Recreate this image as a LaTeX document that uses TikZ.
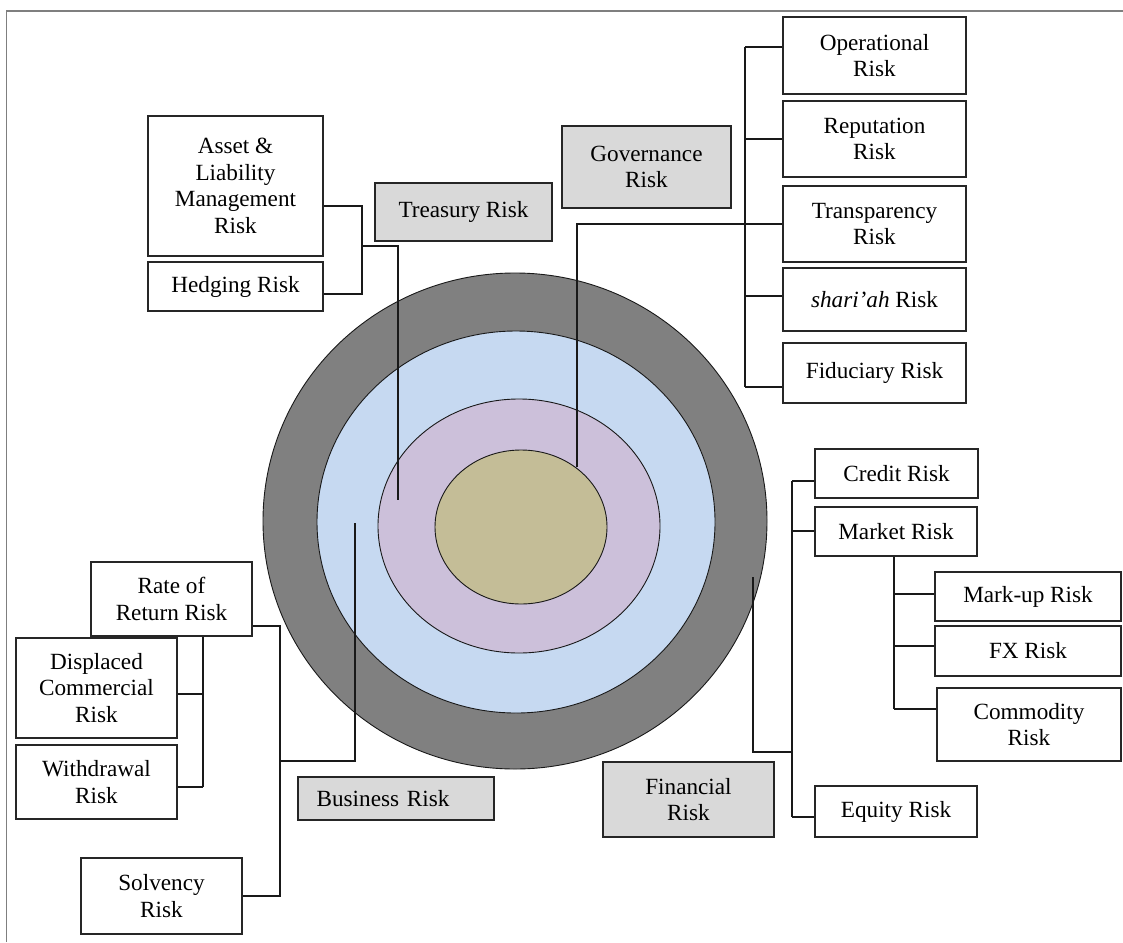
\documentclass[tikz,border=0pt]{standalone}
\usepackage{fontspec}
\setmainfont{Liberation Serif}
\newfontfamily\boxfont{Liberation Serif}
\definecolor{ringgray}{HTML}{808080}
\definecolor{ringblue}{HTML}{C6D9F1}
\definecolor{ringpurple}{HTML}{CCC0DA}
\definecolor{ringtan}{HTML}{C4BD97}
\definecolor{labelgray}{HTML}{D9D9D9}
\definecolor{framegray}{HTML}{7F7F7F}
\tikzset{
  box/.style={draw=black!85, line width=1.3pt, fill=white, inner sep=0pt, align=center,
    font=\boxfont\fontsize{23.2}{26.5}\selectfont},
  graybox/.style={box, fill=labelgray},
  conn/.style={draw=black!90, line width=1.2pt},
  ring/.style={draw=black!90, line width=0.9pt}
}
\begin{document}
\begin{tikzpicture}[x=1pt,y=-1pt]
\useasboundingbox (0,0) rectangle (1123,942);
% frame
\draw[framegray, line width=1.5pt] (6.5,942) -- (6.5,11) -- (1123,11);
% rings
\draw[ring, fill=ringgray] (515,521) ellipse [x radius=252, y radius=248];
\draw[ring, fill=ringblue] (516,522) ellipse [x radius=199, y radius=191];
\draw[ring, fill=ringpurple] (519,526) ellipse [x radius=141, y radius=127];
\draw[ring, fill=ringtan] (521,527) ellipse [x radius=86, y radius=77];

% treasury group
\node[box, minimum width=175pt, minimum height=140pt] (alm) at (235.5,186) {Asset \&\\Liability\\Management\\Risk};
\node[box, minimum width=175pt, minimum height=49pt] (hedge) at (235.5,286.5) {Hedging Risk};
\node[graybox, minimum width=177pt, minimum height=58pt] (treasury) at (463.5,212) {Treasury Risk};

% governance group
\node[graybox, minimum width=169pt, minimum height=82pt] (gov) at (646.5,167) {Governance\\Risk};
\node[box, minimum width=183pt, minimum height=77pt] (oper) at (874.5,55.5) {Operational\\Risk};
\node[box, minimum width=183pt, minimum height=76pt] (repu) at (874.5,139) {Reputation\\Risk};
\node[box, minimum width=183pt, minimum height=76pt] (trans) at (874.5,224) {Transparency\\Risk};
\node[box, minimum width=183pt, minimum height=63pt] (shariah) at (874.5,299.5) {\textit{shari’ah} Risk};
\node[box, minimum width=183pt, minimum height=60pt] (fid) at (874.5,373) {Fiduciary Risk};

% financial group
\node[box, minimum width=163pt, minimum height=49pt] (credit) at (896.5,473.5) {Credit Risk};
\node[box, minimum width=162pt, minimum height=49pt] (market) at (896,531.5) {Market Risk};
\node[box, minimum width=186pt, minimum height=49pt] (markup) at (1028,596.5) {Mark-up Risk};
\node[box, minimum width=186pt, minimum height=50pt] (fx) at (1028,651) {FX Risk};
\node[box, minimum width=184pt, minimum height=73pt] (commodity) at (1029,724.5) {Commodity\\Risk};
\node[box, minimum width=162pt, minimum height=51pt] (equity) at (896,811.5) {Equity Risk};
\node[graybox, minimum width=171pt, minimum height=75pt] (financial) at (688.5,799.5) {Financial\\Risk};

% business group
\node[graybox, minimum width=196pt, minimum height=43pt, text width=196pt] (business) at (396,798.5) {\hspace*{-26pt}Business Risk};
\node[box, minimum width=161pt, minimum height=74pt] (ror) at (171.5,599) {Rate of\\Return Risk};
\node[box, minimum width=161pt, minimum height=100pt] (displaced) at (96.5,688) {Displaced\\Commercial\\Risk};
\node[box, minimum width=161pt, minimum height=74pt] (withdrawal) at (96.5,782) {Withdrawal\\Risk};
\node[box, minimum width=161pt, minimum height=76pt] (solvency) at (161.5,896) {Solvency\\Risk};

% treasury connectors
\coordinate (t1) at (362,206);
\coordinate (t2) at (362,294);
\coordinate (tj) at (362,246);
\coordinate (tend) at (398,500);
\draw[conn] (t1 -| alm.east) -- (t1) -- (t2) -- (t2 -| hedge.east);
\draw[conn] (tj) -- (tj -| tend) -- (tend);

% governance connectors
\coordinate (g1) at (745,47);
\coordinate (g2) at (745,139);
\coordinate (g3) at (745,224);
\coordinate (g4) at (745,296);
\coordinate (g5) at (745,387);
\coordinate (gend) at (577,467);
\draw[conn] (g1) -- (g5);
\draw[conn] (g1) -- (g1 -| oper.west);
\draw[conn] (g2) -- (g2 -| repu.west);
\draw[conn] (g4) -- (g4 -| shariah.west);
\draw[conn] (g5) -- (g5 -| fid.west);
\draw[conn] (gend) -- (gend |- g3) -- (g3 -| trans.west);

% financial connectors
\coordinate (f1) at (792,481);
\coordinate (f2) at (792,531);
\coordinate (f3) at (792,817);
\coordinate (fj) at (792,752);
\coordinate (fend) at (753,577);
\draw[conn] (f1) -- (f3);
\draw[conn] (f1) -- (f1 -| credit.west);
\draw[conn] (f2) -- (f2 -| market.west);
\draw[conn] (f3) -- (f3 -| equity.west);
\draw[conn] (fend) -- (fend |- fj) -- (fj);
\coordinate (m1) at (894,594);
\coordinate (m2) at (894,646);
\coordinate (m3) at (894,709);
\draw[conn] (m1 |- market.south) -- (m3);
\draw[conn] (m1) -- (m1 -| markup.west);
\draw[conn] (m2) -- (m2 -| fx.west);
\draw[conn] (m3) -- (m3 -| commodity.west);

% business connectors
\coordinate (b1) at (280,626);
\coordinate (b2) at (280,896);
\coordinate (bj) at (280,761);
\coordinate (bend) at (355,523);
\draw[conn] (b1 -| ror.east) -- (b1) -- (b2) -- (b2 -| solvency.east);
\draw[conn] (bj) -- (bj -| bend) -- (bend);
\coordinate (r1) at (203,694);
\coordinate (r2) at (203,787);
\draw[conn] (r1 |- ror.south) -- (r2);
\draw[conn] (r1) -- (r1 -| displaced.east);
\draw[conn] (r2) -- (r2 -| withdrawal.east);
\end{tikzpicture}
\end{document}
